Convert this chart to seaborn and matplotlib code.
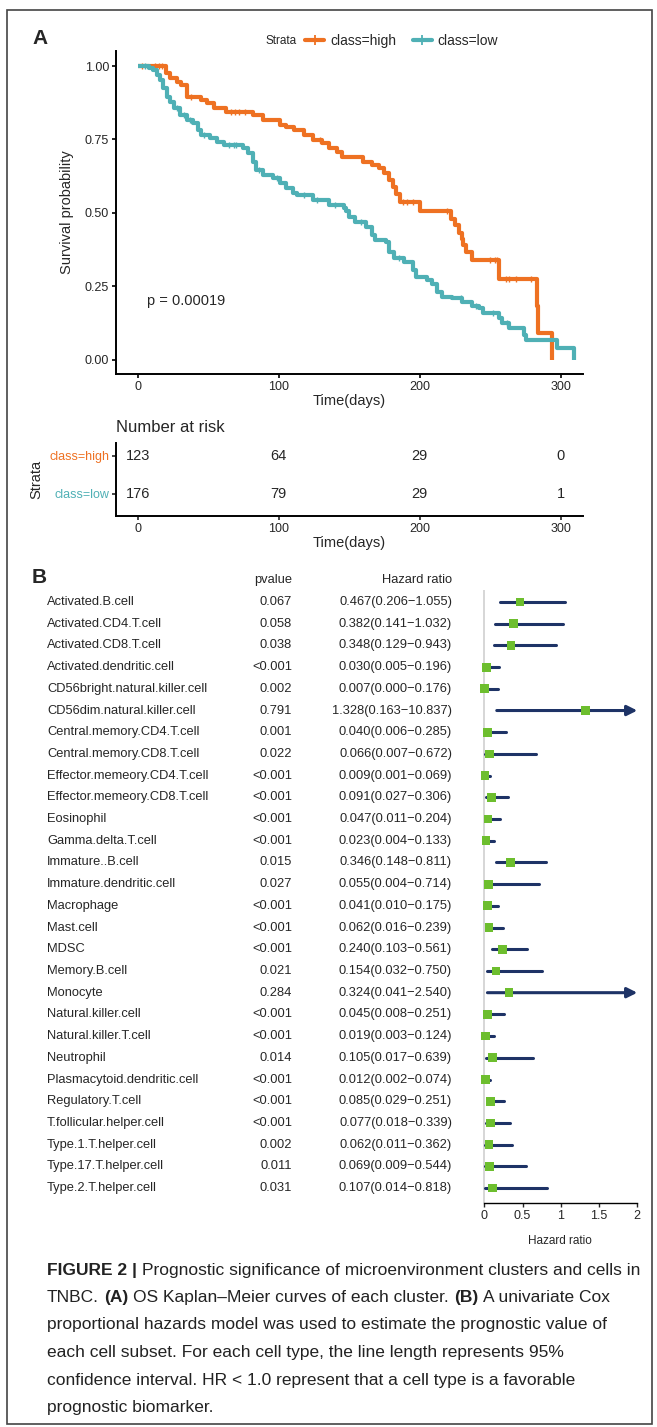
import numpy as np
import pandas as pd
import matplotlib
matplotlib.use("Agg")
import matplotlib.pyplot as plt
import seaborn as sns
from matplotlib.lines import Line2D
from matplotlib.patches import Rectangle

# ---------------- data: Kaplan-Meier ----------------
high_time = [0, 20, 23, 28, 31, 35, 45, 49, 54, 63, 82, 89, 101, 105, 111, 118, 124, 131,
             136, 141, 145, 160, 166, 171, 175, 178, 181, 183, 186, 200, 222, 225, 228,
             230, 231, 233, 237, 256, 283, 284, 294]
high_surv = [1.0, 0.975, 0.958, 0.945, 0.935, 0.895, 0.884, 0.874, 0.857, 0.843, 0.833, 0.816,
             0.80, 0.793, 0.782, 0.765, 0.747, 0.737, 0.72, 0.707, 0.69, 0.672, 0.662, 0.652,
             0.635, 0.611, 0.587, 0.565, 0.536, 0.505, 0.48, 0.46, 0.43, 0.41, 0.39, 0.365,
             0.338, 0.276, 0.184, 0.089, 0.0]
high_censor = [3, 12, 15, 17, 38, 66, 69, 72, 76, 129, 188, 191, 195, 219, 250, 253, 255,
               261, 263, 268, 279]

low_time = [0, 8, 11, 14, 16, 18, 21, 23, 26, 30, 35, 39, 43, 45, 51, 56, 61, 75, 78, 82,
            84, 89, 96, 101, 105, 110, 113, 124, 136, 146, 148, 150, 154, 162, 166, 168, 176,
            178, 182, 189, 195, 197, 205, 209, 212, 216, 223, 230, 237, 242, 245, 256, 258,
            263, 272, 274, 275, 297, 309]
low_surv = [1.0, 0.993, 0.986, 0.969, 0.952, 0.925, 0.894, 0.877, 0.857, 0.833, 0.816, 0.805,
            0.782, 0.765, 0.754, 0.741, 0.73, 0.72, 0.703, 0.672, 0.645, 0.628, 0.618, 0.60,
            0.584, 0.567, 0.56, 0.543, 0.526, 0.515, 0.505, 0.485, 0.468, 0.45, 0.423, 0.406,
            0.40, 0.365, 0.345, 0.331, 0.304, 0.28, 0.27, 0.259, 0.229, 0.212, 0.208, 0.195,
            0.184, 0.174, 0.157, 0.143, 0.123, 0.109, 0.106, 0.082, 0.065, 0.038, 0.0]
low_censor = [5, 28, 33, 37, 47, 65, 68, 70, 86, 99, 118, 127, 140, 158, 185, 229, 240, 252, 262]

risk_times = [0, 100, 200, 300]
risk_high = [123, 64, 29, 0]
risk_low = [176, 79, 29, 1]
p_text = "p = 0.00019"

# ---------------- data: univariate Cox forest plot ----------------
cells = ["Activated.B.cell", "Activated.CD4.T.cell", "Activated.CD8.T.cell",
         "Activated.dendritic.cell", "CD56bright.natural.killer.cell",
         "CD56dim.natural.killer.cell", "Central.memory.CD4.T.cell",
         "Central.memory.CD8.T.cell", "Effector.memeory.CD4.T.cell",
         "Effector.memeory.CD8.T.cell", "Eosinophil", "Gamma.delta.T.cell",
         "Immature..B.cell", "Immature.dendritic.cell", "Macrophage", "Mast.cell", "MDSC",
         "Memory.B.cell", "Monocyte", "Natural.killer.cell", "Natural.killer.T.cell",
         "Neutrophil", "Plasmacytoid.dendritic.cell", "Regulatory.T.cell",
         "T.follicular.helper.cell", "Type.1.T.helper.cell", "Type.17.T.helper.cell",
         "Type.2.T.helper.cell"]
pvalues = ["0.067", "0.058", "0.038", "<0.001", "0.002", "0.791", "0.001", "0.022", "<0.001",
           "<0.001", "<0.001", "<0.001", "0.015", "0.027", "<0.001", "<0.001", "<0.001",
           "0.021", "0.284", "<0.001", "<0.001", "0.014", "<0.001", "<0.001", "<0.001",
           "0.002", "0.011", "0.031"]
hr = [0.467, 0.382, 0.348, 0.030, 0.007, 1.328, 0.040, 0.066, 0.009, 0.091, 0.047, 0.023,
      0.346, 0.055, 0.041, 0.062, 0.240, 0.154, 0.324, 0.045, 0.019, 0.105, 0.012, 0.085,
      0.077, 0.062, 0.069, 0.107]
hr_low = [0.206, 0.141, 0.129, 0.005, 0.000, 0.163, 0.006, 0.007, 0.001, 0.027, 0.011, 0.004,
          0.148, 0.004, 0.010, 0.016, 0.103, 0.032, 0.041, 0.008, 0.003, 0.017, 0.002, 0.029,
          0.018, 0.011, 0.009, 0.014]
hr_high = [1.055, 1.032, 0.943, 0.196, 0.176, 10.837, 0.285, 0.672, 0.069, 0.306, 0.204,
           0.133, 0.811, 0.714, 0.175, 0.239, 0.561, 0.750, 2.540, 0.251, 0.124, 0.639, 0.074,
           0.251, 0.339, 0.362, 0.544, 0.818]
hr_ticks = [0, 0.5, 1, 1.5, 2]
hr_max = 2

caption_lines = [
    [("FIGURE 2 |", "bold"), ("Prognostic significance of microenvironment clusters and cells in", "normal")],
    [("TNBC.", "normal"), ("(A)", "bold"), ("OS Kaplan\u2013Meier curves of each cluster.", "normal"),
     ("(B)", "bold"), ("A univariate Cox", "normal")],
    [("proportional hazards model was used to estimate the prognostic value of", "normal")],
    [("each cell subset. For each cell type, the line length represents 95%", "normal")],
    [("confidence interval. HR < 1.0 represent that a cell type is a favorable", "normal")],
    [("prognostic biomarker.", "normal")],
]

# ---------------- style ----------------
ORANGE = "#EE7122"
TEAL = "#4FB0B5"
NAVY = "#1E3366"
GREEN = "#6DBE2E"
W, H = 657, 1427

sns.set_theme(style="white")
plt.rcParams["font.family"] = ["Liberation Sans", "DejaVu Sans"]
plt.rcParams["axes.linewidth"] = 1.4


def box(x0, y0, x1, y1):
    # pixel box (top-left origin) -> figure rect
    return [x0 / W, 1 - y1 / H, (x1 - x0) / W, (y1 - y0) / H]


fig = plt.figure(figsize=(W / 100, H / 100), dpi=100)
fig.patch.set_facecolor("white")
fig.add_artist(Rectangle((7 / W, 1 - 1424 / H), 645 / W, 1414 / H, transform=fig.transFigure,
                         fill=False, ec="#444444", lw=1.2))

# ======================= panel A: KM curves =======================
xlim = (-15.3, 315.7)
ax = fig.add_axes(box(116, 51.4, 583, 373.6))
for t, s, cens, col in [(high_time, high_surv, high_censor, ORANGE),
                        (low_time, low_surv, low_censor, TEAL)]:
    df = pd.DataFrame({"time": t, "surv": s})
    sns.lineplot(data=df, x="time", y="surv", ax=ax, color=col, lw=3.0, estimator=None,
                 sort=False, drawstyle="steps-post", solid_capstyle="butt")
    idx = np.searchsorted(np.array(t), np.array(cens), side="right") - 1
    ax.plot(cens, np.array(s)[idx], ls="none", marker="|", ms=5, mew=1.0, color=col)
ax.set_xlim(*xlim)
ax.set_ylim(-0.048, 1.05)
ax.set_xticks(risk_times)
ax.set_yticks([0, 0.25, 0.5, 0.75, 1.0])
ax.set_yticklabels(["0.00", "0.25", "0.50", "0.75", "1.00"])
ax.tick_params(axis="both", labelsize=9, length=3, width=1.2, direction="out", color="black",
               pad=2, left=True, bottom=True)
ax.set_xlabel("Time(days)", fontsize=10.5, labelpad=1)
ax.set_ylabel("Survival probability", fontsize=10.5, labelpad=8)
for sp in ["top", "right"]:
    ax.spines[sp].set_visible(False)
for sp in ["left", "bottom"]:
    ax.spines[sp].set_color("black")
ax.text(6.6, 0.20, p_text, fontsize=10.5, ha="left", va="center")

# legend on top
fig.text(266 / W, 1 - 41 / H, "Strata", fontsize=8.5, va="center", ha="left")
handles = [Line2D([], [], color=ORANGE, lw=3, marker="+", ms=7, mew=1.3),
           Line2D([], [], color=TEAL, lw=3, marker="+", ms=7, mew=1.3)]
fig.legend(handles, ["class=high", "class=low"], ncol=2, frameon=False, fontsize=10,
           loc="center left", bbox_to_anchor=(305 / W, 1 - 41 / H), handlelength=1.4,
           handletextpad=0.4, columnspacing=1.2, borderaxespad=0, borderpad=0)
fig.text(32 / W, 1 - 39 / H, "A", fontsize=15, fontweight="bold", va="center")

# ======================= risk table =======================
axr = fig.add_axes(box(116, 443, 583, 516))
axr.set_xlim(*xlim)
axr.set_ylim(-0.58, 1.34)
for x, n in zip(risk_times, risk_high):
    axr.text(x, 1, str(n), ha="center", va="center", fontsize=10.5)
for x, n in zip(risk_times, risk_low):
    axr.text(x, 0, str(n), ha="center", va="center", fontsize=10.5)
axr.set_yticks([1, 0])
axr.set_yticklabels(["class=high", "class=low"])
for lab, col in zip(axr.get_yticklabels(), [ORANGE, TEAL]):
    lab.set_color(col)
axr.set_xticks(risk_times)
axr.tick_params(axis="both", labelsize=9, length=3, width=1.2, direction="out", pad=2,
                left=True, bottom=True)
axr.set_xlabel("Time(days)", fontsize=10.5, labelpad=1)
axr.set_ylabel("Strata", fontsize=10.5, labelpad=4)
axr.set_title("Number at risk", loc="left", fontsize=12, pad=8, x=0.0)
for sp in ["top", "right"]:
    axr.spines[sp].set_visible(False)
for sp in ["left", "bottom"]:
    axr.spines[sp].set_color("black")

# ======================= panel B: forest plot =======================
fig.text(32 / W, 1 - 578 / H, "B", fontsize=15, fontweight="bold", va="center")
n = len(cells)
ylim_f = (27.69, -0.553)
rows = np.arange(n)
fs_tab = 9.3

axt = fig.add_axes(box(0, 590, W, 1203))
axt.set_xlim(0, W)
axt.set_ylim(*ylim_f)
axt.axis("off")
axt.patch.set_alpha(0)
axt.text(292, -1, "pvalue", ha="right", va="center", fontsize=fs_tab)
axt.text(452, -1, "Hazard ratio", ha="right", va="center", fontsize=fs_tab)
for i in rows:
    axt.text(47, i, cells[i], ha="left", va="center", fontsize=fs_tab)
    axt.text(292, i, pvalues[i], ha="right", va="center", fontsize=fs_tab)
    axt.text(452, i, f"{hr[i]:.3f}({hr_low[i]:.3f}\u2212{hr_high[i]:.3f})", ha="right",
             va="center", fontsize=fs_tab)

axf = fig.add_axes(box(460, 590, 650, 1203))
axf.patch.set_alpha(0)
axf.set_xlim((460 - 484.3) / 76.5, (650 - 484.3) / 76.5)
axf.set_ylim(*ylim_f)
axf.axvline(0, color="#cfcfcf", lw=1.2, zorder=0)
for i in rows:
    lo, hi = hr_low[i], hr_high[i]
    if hi > hr_max:
        axf.annotate("", xy=(hr_max, i), xytext=(lo, i),
                     arrowprops=dict(arrowstyle="-|>,head_length=0.5,head_width=0.25",
                                     color=NAVY, lw=2.2, shrinkA=0, shrinkB=0))
    else:
        axf.plot([lo, hi], [i, i], color=NAVY, lw=2.2, solid_capstyle="round")
sns.scatterplot(x=hr, y=rows, ax=axf, marker="s", s=40, color=GREEN, edgecolor="none",
                zorder=5, legend=False)
for sp in ["top", "right", "left"]:
    axf.spines[sp].set_visible(False)
axf.spines["bottom"].set_bounds(0, hr_max)
axf.spines["bottom"].set_color("black")
axf.spines["bottom"].set_linewidth(1.0)
axf.set_yticks([])
axf.set_xticks(hr_ticks)
axf.set_xticklabels(["0", "0.5", "1", "1.5", "2"])
axf.tick_params(axis="x", labelsize=9, length=3, width=1.0, direction="out", pad=2,
                bottom=True)
axf.set_xlabel("Hazard ratio", fontsize=8.5, labelpad=3)
axf.xaxis.set_label_coords((560 - 460) / 190, -0.052)

# ======================= caption =======================
renderer = fig.canvas.get_renderer()
fam = ["Liberation Sans"]


def text_width(s, weight, size):
    t = fig.text(0, 0, s, fontsize=size, fontweight=weight, family=fam)
    w = t.get_window_extent(renderer).width
    t.remove()
    return w


def line_width(line, size):
    sp = text_width("a a", "normal", size) - text_width("aa", "normal", size)
    return sum(text_width(s, w, size) for s, w in line) + sp * (len(line) - 1)


# pick the caption size so the first line spans the same width as in the reference
cap_size = 13 * 591 / line_width(caption_lines[0], 13)
space_w = text_width("a a", "normal", cap_size) - text_width("aa", "normal", cap_size)
y_px = 1270
for line in caption_lines:
    x_px = 47
    for seg, weight in line:
        t = fig.text(x_px / W, 1 - y_px / H, seg, fontsize=cap_size, fontweight=weight,
                     family=fam, va="center", ha="left", color="#222222")
        x_px += t.get_window_extent(renderer).width + space_w
    y_px += 27.5

fig.savefig("out.png", dpi=100, facecolor="white")
